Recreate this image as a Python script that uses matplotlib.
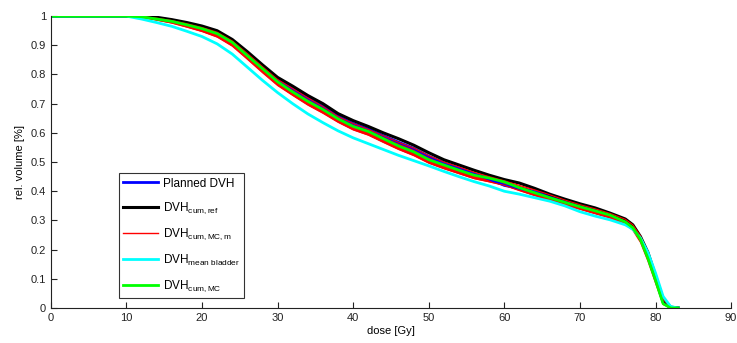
import matplotlib
matplotlib.use("Agg")
import matplotlib.pyplot as plt

plt.rcParams['font.family'] = ['Liberation Sans', 'DejaVu Sans']
plt.rcParams['mathtext.fontset'] = 'custom'
plt.rcParams['mathtext.rm'] = 'Liberation Sans'
plt.rcParams['mathtext.it'] = 'Liberation Sans'

# dose grid [Gy]
dose = [0, 10, 12, 14, 16, 18, 20, 22, 24, 26, 28, 30, 32, 34, 36, 38, 40, 42, 44,
        46, 48, 50, 52, 54, 56, 58, 60, 62, 64, 66, 68, 70, 72, 74, 76, 77, 78, 79,
        80, 81, 82, 83]

planned = [1, 1, 1, 0.994, 0.986, 0.975, 0.962, 0.945, 0.915, 0.872, 0.826, 0.783,
           0.752, 0.72, 0.69, 0.657, 0.632, 0.613, 0.59, 0.568, 0.547, 0.52, 0.498,
           0.48, 0.46, 0.442, 0.42, 0.41, 0.398, 0.382, 0.366, 0.35, 0.336, 0.32,
           0.298, 0.278, 0.24, 0.175, 0.1, 0.02, 0.0, 0.0]

ref = [1, 1, 1, 0.996, 0.988, 0.978, 0.966, 0.95, 0.92, 0.878, 0.833, 0.79, 0.76,
       0.728, 0.7, 0.666, 0.642, 0.622, 0.6, 0.58, 0.558, 0.532, 0.508, 0.49, 0.472,
       0.455, 0.44, 0.428, 0.41, 0.39, 0.373, 0.357, 0.343, 0.325, 0.305, 0.285,
       0.245, 0.19, 0.11, 0.03, 0.003, 0.0]

mc_m_hi = [1, 1, 0.999, 0.993, 0.985, 0.974, 0.961, 0.945, 0.915, 0.872, 0.827,
           0.783, 0.752, 0.72, 0.69, 0.656, 0.632, 0.612, 0.59, 0.568, 0.548, 0.522,
           0.5, 0.483, 0.465, 0.45, 0.436, 0.42, 0.405, 0.388, 0.37, 0.354, 0.34,
           0.324, 0.304, 0.285, 0.248, 0.19, 0.11, 0.03, 0.003, 0.0]

mc_m_lo = [1, 1, 0.996, 0.986, 0.976, 0.962, 0.947, 0.928, 0.897, 0.852, 0.806,
           0.762, 0.728, 0.695, 0.667, 0.636, 0.61, 0.592, 0.567, 0.543, 0.522,
           0.496, 0.477, 0.46, 0.443, 0.432, 0.42, 0.402, 0.385, 0.368, 0.352,
           0.338, 0.323, 0.308, 0.287, 0.266, 0.225, 0.16, 0.085, 0.012, 0.0, 0.0]

bladder = [1, 1, 0.99, 0.978, 0.965, 0.948, 0.93, 0.905, 0.87, 0.825, 0.78, 0.738,
           0.7, 0.665, 0.635, 0.607, 0.583, 0.563, 0.543, 0.523, 0.505, 0.487, 0.468,
           0.45, 0.433, 0.418, 0.4, 0.39, 0.378, 0.366, 0.35, 0.33, 0.315, 0.302,
           0.285, 0.27, 0.24, 0.19, 0.12, 0.04, 0.005, 0.0]

mc = [1, 1, 0.998, 0.99, 0.982, 0.97, 0.957, 0.94, 0.91, 0.864, 0.82, 0.775, 0.74,
      0.708, 0.68, 0.648, 0.622, 0.605, 0.58, 0.555, 0.535, 0.508, 0.49, 0.472,
      0.455, 0.445, 0.432, 0.412, 0.395, 0.378, 0.362, 0.347, 0.333, 0.318, 0.295,
      0.275, 0.235, 0.17, 0.095, 0.015, 0.0, 0.0]

labels = ['Planned DVH',
          r'DVH$_{\mathrm{cum,ref}}$',
          r'DVH$_{\mathrm{cum,MC,m}}$',
          r'DVH$_{\mathrm{mean\ bladder}}$',
          r'DVH$_{\mathrm{cum,MC}}$']

fig = plt.figure(figsize=(7.37, 3.43), dpi=100)
ax = fig.add_axes([0.069, 0.102, 0.923, 0.851])

l1, = ax.plot(dose, planned, color='#0000ff', lw=2.0)
l2, = ax.plot(dose, ref, color='black', lw=2.2)
ax.fill_between(dose, mc_m_lo, mc_m_hi, color='red', lw=0)
l3, = ax.plot(dose, mc_m_hi, color='#ff0000', lw=0.8)
ax.plot(dose, mc_m_lo, color='#ff0000', lw=0.8)
l4, = ax.plot(dose, bladder, color='#00ffff', lw=2.0)
l5, = ax.plot(dose, mc, color='#00ff00', lw=2.0)

ax.set_xlim(0, 90)
ax.set_ylim(0, 1)
ax.set_xticks(range(0, 91, 10))
ax.set_yticks([0, 0.1, 0.2, 0.3, 0.4, 0.5, 0.6, 0.7, 0.8, 0.9, 1])
ax.set_yticklabels(['0', '0.1', '0.2', '0.3', '0.4', '0.5', '0.6', '0.7', '0.8', '0.9', '1'])
for s in ['top', 'right']:
    ax.spines[s].set_visible(False)
for s in ['left', 'bottom']:
    ax.spines[s].set_color('#222222')
    ax.spines[s].set_linewidth(0.8)
ax.tick_params(direction='in', length=4, width=0.8, labelsize=8, colors='#222222')
ax.set_xlabel('dose [Gy]', fontsize=8, labelpad=2)
ax.set_ylabel('rel. volume [%]', fontsize=8, labelpad=4)

leg = ax.legend([l1, l2, l3, l4, l5], labels, loc='lower left',
                bbox_to_anchor=(0.1, 0.034), borderaxespad=0, fontsize=8.5,
                frameon=True, fancybox=False, edgecolor='black', handlelength=3.0,
                borderpad=0.35, labelspacing=0.9, handletextpad=0.4)
leg.get_frame().set_linewidth(0.8)
leg.get_lines()[2].set_linewidth(1.0)

fig.savefig('out.png', dpi=100)
